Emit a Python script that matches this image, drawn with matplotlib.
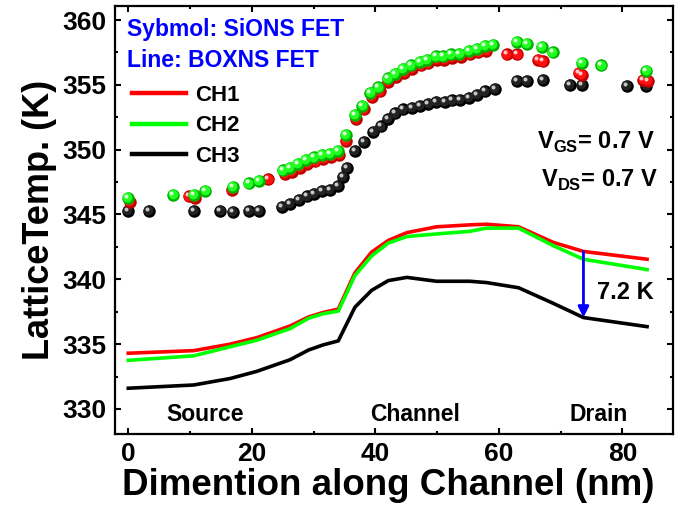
import matplotlib
matplotlib.use('Agg')
import matplotlib.pyplot as plt
from matplotlib import font_manager
from matplotlib.transforms import offset_copy
from matplotlib.ticker import MultipleLocator
from matplotlib.lines import Line2D

# ---------------- data ----------------
line_x = [0, 10.6, 16.5, 20.8, 26.2, 29.2, 31.6, 34.0, 36.7, 39.4, 42.1, 45.1,
          49.9, 55.3, 58.0, 63.2, 68.8, 73.7, 84.0]
ch1_line = [334.3, 334.5, 335.0, 335.5, 336.4, 337.1, 337.45, 337.7, 340.5, 342.1,
            343.0, 343.6, 344.05, 344.2, 344.25, 344.05, 342.85, 342.15, 341.55]
ch2_line = [333.75, 334.1, 334.8, 335.3, 336.2, 337.0, 337.35, 337.55, 340.3, 341.8,
            342.8, 343.3, 343.5, 343.7, 343.95, 343.95, 342.6, 341.55, 340.75]
ch3_line = [331.6, 331.85, 332.35, 332.9, 333.8, 334.55, 334.95, 335.25, 337.85, 339.15,
            339.9, 340.15, 339.85, 339.85, 339.75, 339.35, 338.15, 337.05, 336.35]

green_x = [0, 7.3, 10.6, 12.5, 17.0, 19.5, 21.1, 25.1, 26.2, 27.5, 28.8, 30.1, 31.4,
           32.7, 34.0, 35.2, 36.7, 37.9, 39.2, 40.5, 42.0, 43.2, 44.5, 45.7, 47.2,
           48.3, 49.8, 51.0, 52.2, 53.6, 55.1, 56.5, 57.8, 59.0, 62.9, 64.6, 67.0,
           68.8, 73.5, 76.6, 83.9]
green_y = [346.3, 346.5, 346.5, 346.8, 347.1, 347.4, 347.6, 348.4, 348.6, 348.9, 349.2,
           349.4, 349.6, 349.7, 349.9, 351.15, 352.7, 353.4, 354.4, 354.8, 355.5, 355.85,
           356.2, 356.5, 356.75, 356.9, 357.2, 357.2, 357.35, 357.4, 357.6, 357.8, 358.0,
           358.1, 358.3, 358.15, 357.9, 357.5, 356.7, 356.5, 356.1]

red_x = [0.2, 9.8, 10.8, 16.8, 22.7, 25.3, 26.5, 27.8, 29.0, 30.3, 31.6, 32.9, 34.2,
         35.2, 36.9, 38.1, 39.4, 40.7, 42.1, 43.4, 44.7, 45.9, 47.4, 48.5, 50.0, 51.2,
         52.4, 53.8, 55.3, 56.7, 58.0, 61.3, 63.0, 66.4, 67.1, 73.0, 73.5, 83.4, 84.2]
red_y = [346.0, 346.4, 346.3, 346.9, 347.7, 348.1, 348.3, 348.6, 348.9, 349.1, 349.3,
         349.45, 349.6, 350.7, 352.4, 353.1, 354.1, 354.5, 355.25, 355.6, 355.95, 356.2,
         356.5, 356.65, 356.9, 356.95, 357.1, 357.15, 357.35, 357.5, 357.6, 357.35,
         357.35, 356.9, 356.8, 355.9, 355.75, 355.4, 355.3]

black_x = [0, 3.4, 10.6, 14.9, 17.0, 19.5, 21.1, 24.9, 26.2, 27.6, 28.9, 30.1, 31.3,
           32.7, 34.0, 34.7, 35.4, 36.7, 38.1, 39.7, 40.9, 42.1, 43.2, 44.5, 45.9, 47.2,
           48.6, 49.9, 51.3, 52.4, 53.7, 55.1, 56.4, 57.8, 59.4, 62.9, 64.5, 67.1, 71.5,
           73.5, 80.7, 83.9]
black_y = [345.25, 345.25, 345.25, 345.3, 345.2, 345.25, 345.3, 345.6, 345.8, 346.1,
           346.4, 346.6, 346.8, 346.9, 347.2, 347.9, 348.6, 349.9, 350.6, 351.4, 351.8,
           352.4, 352.8, 353.1, 353.2, 353.4, 353.5, 353.7, 353.7, 353.8, 353.85, 354.0,
           354.2, 354.5, 354.7, 355.3, 355.3, 355.4, 355.0, 355.0, 354.9, 354.9]

legend_labels = ['CH1', 'CH2', 'CH3']
region_labels = ['Source', 'Channel', 'Drain']
region_x = [12.5, 46.4, 76.2]
arrow_x = 73.7
arrow_top = 342.15
arrow_bottom = 337.05
x_ticks = [0, 20, 40, 60, 80]
y_ticks = [330, 335, 340, 345, 350, 355, 360]

# ---------------- style ----------------
names = {f.name for f in font_manager.fontManager.ttflist}
BASE = 'Liberation Sans'
NARROW = 'Liberation Sans Narrow' if 'Liberation Sans Narrow' in names else None
plt.rcParams['font.family'] = [BASE, 'DejaVu Sans']
plt.rcParams['mathtext.fontset'] = 'custom'
plt.rcParams['mathtext.rm'] = BASE
plt.rcParams['mathtext.bf'] = BASE + ':bold'

RED = '#ff0000'
GREEN = '#00ff00'
BLACK = '#000000'

fig = plt.figure(figsize=(6.95, 5.13), dpi=100)
ax = fig.add_axes([115 / 695, 1 - 434 / 513, (673 - 115) / 695, (434 - 6) / 513])
ax.set_xlim(-2.15, 88.2)
ax.set_ylim(328.07, 361.08)

for s in ax.spines.values():
    s.set_linewidth(1.6)

ax.xaxis.set_major_locator(MultipleLocator(20))
ax.xaxis.set_minor_locator(MultipleLocator(10))
ax.yaxis.set_major_locator(MultipleLocator(5))
ax.yaxis.set_minor_locator(MultipleLocator(2.5))
ax.set_xticks(x_ticks)
ax.set_yticks(y_ticks)
ax.tick_params(which='both', direction='in', top=True, right=True, width=1.5)
ax.tick_params(which='major', length=4)
ax.tick_params(which='minor', length=2)
ax.tick_params(axis='x', pad=6)
ax.tick_params(axis='y', pad=6)

if NARROW:
    tick_font = dict(family=[NARROW, BASE], size=22, weight='bold')
else:
    tick_font = dict(family=[BASE], size=19, weight='bold')
for lab in ax.get_xticklabels() + ax.get_yticklabels():
    lab.set_fontfamily(tick_font['family'])
    lab.set_fontsize(tick_font['size'])
    lab.set_fontweight('bold')

ax.set_xlabel('Dimention along Channel (nm)', fontsize=26.5, fontweight='bold',
              labelpad=1, x=0.49)
ax.set_ylabel('LatticeTemp. (K)', fontsize=26, fontweight='bold', labelpad=4)

# lines (BOXNS FET)
lw = 2.6
ax.plot(line_x, ch1_line, color=RED, lw=lw, zorder=2)
ax.plot(line_x, ch2_line, color=GREEN, lw=lw, zorder=2)
ax.plot(line_x, ch3_line, color=BLACK, lw=lw, zorder=2)


# shiny ball markers (SiONS FET)
def balls(x, y, dark, mid, light, z):
    ms = 9.0
    ax.plot(x, y, 'o', ms=ms, mfc=dark, mec='none', zorder=z, clip_on=False)
    t1 = offset_copy(ax.transData, fig=fig, x=-0.8, y=0.8, units='dots')
    ax.plot(x, y, 'o', ms=ms * 0.78, mfc=mid, mec='none', zorder=z + 0.01,
            transform=t1, clip_on=False)
    t2 = offset_copy(ax.transData, fig=fig, x=-2.0, y=2.0, units='dots')
    ax.plot(x, y, 'o', ms=ms * 0.32, mfc=light, mec='none', zorder=z + 0.02,
            transform=t2, clip_on=False)


balls(black_x, black_y, '#000000', '#222222', '#c8c8c8', 3)
balls(red_x, red_y, '#c00000', '#ff1010', '#ffc8c8', 4)
balls(green_x, green_y, '#00b000', '#20ff20', '#d8ffd8', 5)

# legend
handles = [Line2D([], [], color=c, lw=3.2) for c in (RED, GREEN, BLACK)]
leg = ax.legend(handles, legend_labels, loc='upper left',
                bbox_to_anchor=((132 - 115) / 558, 1 - (85 - 6) / 428),
                frameon=False, prop=dict(family=BASE, size=16, weight='bold'),
                handlelength=2.45, handletextpad=0.4,
                labelspacing=0.42, borderaxespad=0, borderpad=0)

# texts
ax.text(-0.2, 358.75, 'Sybmol: SiONS FET', color='#0000ff', fontsize=16.5,
        fontweight='bold', ha='left', va='baseline')
ax.text(-0.2, 356.4, 'Line: BOXNS FET', color='#0000ff', fontsize=16.5,
        fontweight='bold', ha='left', va='baseline')
ax.text(85.3, 350.05, r'V$_{\mathbf{GS}}$= 0.7 V', fontsize=17, fontweight='bold',
        ha='right', va='baseline')
ax.text(85.8, 347.1, r'V$_{\mathbf{DS}}$= 0.7 V', fontsize=17, fontweight='bold',
        ha='right', va='baseline')
ax.text(75.95, 338.45, '7.2 K', fontsize=17, fontweight='bold', ha='left', va='baseline')
for lab, xx in zip(region_labels, region_x):
    ax.text(xx, 329.1, lab, fontsize=16.5, fontweight='bold', ha='center', va='baseline')

ax.annotate('', xy=(arrow_x, arrow_bottom), xytext=(arrow_x, arrow_top),
            arrowprops=dict(arrowstyle='-|>', color='#0000ff', lw=2,
                            mutation_scale=16, shrinkA=0, shrinkB=0), zorder=6)

fig.savefig('out.png', dpi=100)
